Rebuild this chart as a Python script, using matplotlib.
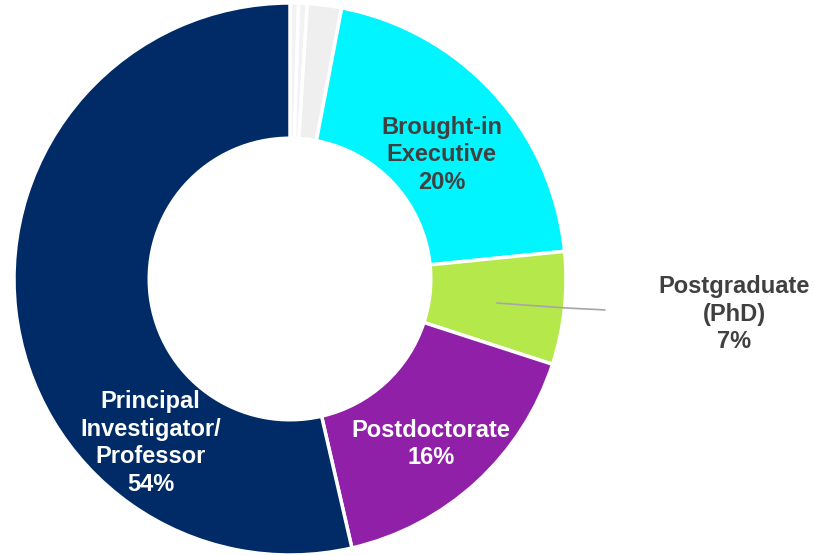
import matplotlib.pyplot as plt

plt.rcParams['font.family'] = ['Liberation Sans', 'DejaVu Sans']

# Role shares (%), clockwise from 12 o'clock
roles = ['Other A', 'Other B', 'Other C', 'Brought-in\nExecutive', 'Postgraduate\n(PhD)',
         'Postdoctorate', 'Principal\nInvestigator/\nProfessor']
shares = [0.5, 0.5, 2.0, 20.4, 6.6, 16.4, 53.6]
colors = ['#F2F2F2', '#F2F2F2', '#EFEFEF', '#00F5FF', '#B5E84A', '#9120A9', '#002B66']

fig = plt.figure(figsize=(8.14, 5.56), dpi=100)
W, H = 814, 556
cx, cy, r = 290, 279, 276
ax = fig.add_axes([(cx - r) / W, (H - cy - r) / H, 2 * r / W, 2 * r / H])

wedges, _ = ax.pie(shares, colors=colors, startangle=90, counterclock=False, radius=1,
                   wedgeprops=dict(width=0.49, edgecolor='white', linewidth=2.5))
ax.set_xlim(-1, 1)
ax.set_ylim(-1, 1)
ax.axis('off')

def pct(v):
    return f'{round(v)}%'

txt = dict(fontsize=17, fontweight='bold', ha='center', va='center', linespacing=1.25)
ax.text(0.55, 0.45, f'{roles[3]}\n{pct(shares[3])}', color='#404040', **txt)
ax.text(0.51, -0.598, f'{roles[5]}\n{pct(shares[5])}', color='white', **txt)
ax.text(-0.505, -0.595, f'{roles[6]}\n{pct(shares[6])}', color='white', **txt)

# Outside label for the small PhD wedge, with a leader line
ax.plot([0.75, 1.0, 1.14], [-0.087, -0.105, -0.112], color='#A6A6A6', lw=1.2, clip_on=False)
ax.text(1.61, -0.128, f'{roles[4]}\n{pct(shares[4])}', color='#404040', clip_on=False, **txt)

fig.savefig('out.png', dpi=100)
